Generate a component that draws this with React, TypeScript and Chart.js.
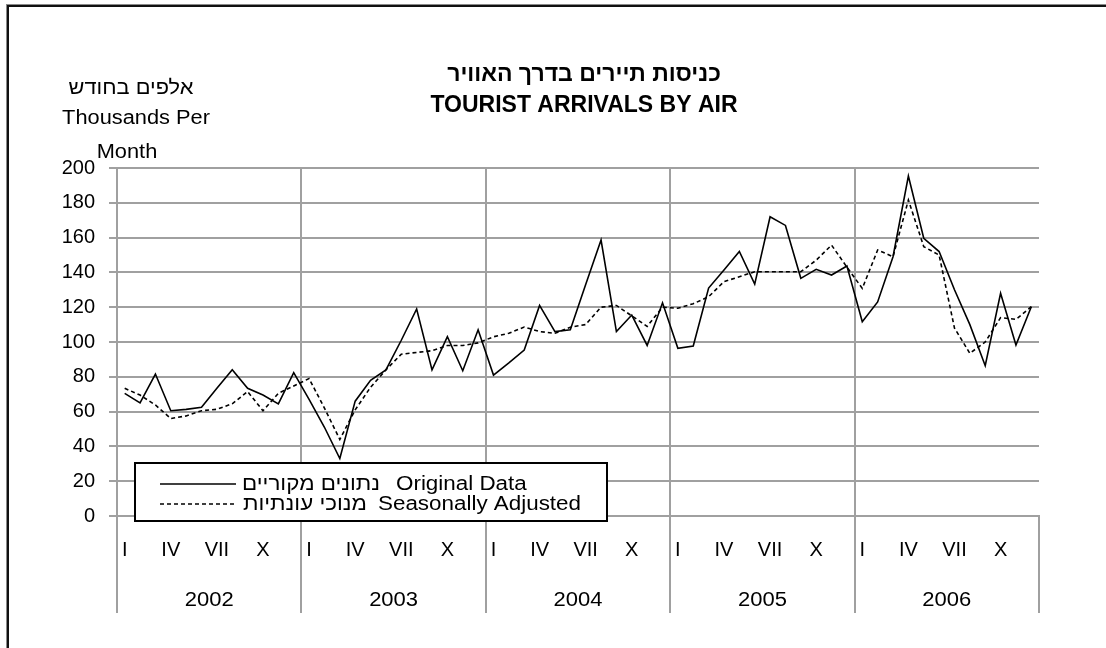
import React, { useEffect, useRef } from 'react';
import { Chart, registerables } from 'chart.js';

Chart.register(...registerables);

// ---------- data ----------
const years = ['2002', '2003', '2004', '2005', '2006'];
const monthTickLabels = ['I', '', '', 'IV', '', '', 'VII', '', '', 'X', '', ''];
const categories: string[] = years.flatMap((y) => monthTickLabels.map((m, i) => `${y}-${i + 1}`));

const originalData = [
  // 2002
  70.5, 65, 81.6, 60.5, 61.3, 62.5, 73.4, 84, 73.4, 69.5, 64.4, 82.4,
  // 2003
  67, 51, 33, 66, 78, 84, 101, 119, 84, 103, 83.5, 107,
  // 2004
  81, 88, 95.4, 121, 106, 107, 133, 158.6, 106, 115.5, 98, 122.5,
  // 2005
  96.4, 97.7, 131, 141.4, 152, 133.3, 172, 167, 136.6, 141.8, 138.5, 143.7,
  // 2006
  111.7, 123, 149, 195.4, 159.6, 152, 130, 110, 86.4, 128, 98.3, 120.3,
];

const seasonallyAdjusted = [
  // 2002
  73.4, 69.5, 63.8, 56, 57.5, 60.5, 61.3, 64.5, 71.5, 60.5, 70.5, 74.7,
  // 2003
  79, 62, 44, 61, 74, 84, 93, 94, 95, 98, 98, 99.5,
  // 2004
  103, 105, 108.6, 106, 105, 108.5, 110, 120, 121, 115, 109, 120,
  // 2005
  119.4, 122, 126, 134.7, 137.5, 140.4, 140.4, 140.4, 140.4, 147, 155.7, 143,
  // 2006
  130.8, 152.9, 149, 181.6, 154.8, 150, 108, 93.5, 100, 114, 113, 120.3,
];

const yMin = 0;
const yMax = 200;
const yStep = 20;

const titleHebrew = 'כניסות תיירים בדרך האוויר';
const titleEnglish = 'TOURIST ARRIVALS BY AIR';
const yTitleLines = ['אלפים בחודש', 'Thousands Per', 'Month'];
const legendHebrew = ['נתונים מקוריים', 'מנוכי עונתיות'];
const legendEnglish = ['Original Data', 'Seasonally Adjusted'];

// ---------- styles ----------
const FONT = '"Liberation Sans", Arial, Helvetica, sans-serif';
const GRID = '#a0a0a0';

function drawText(
  ctx: CanvasRenderingContext2D,
  text: string,
  x: number,
  y: number,
  font: string,
  align: CanvasTextAlign,
  sx = 1
) {
  ctx.save();
  ctx.font = font;
  ctx.fillStyle = '#000';
  ctx.textAlign = align;
  ctx.textBaseline = 'middle';
  ctx.translate(x, y);
  ctx.scale(sx, 1);
  ctx.fillText(text, 0, 0);
  ctx.restore();
}

const overlayPlugin = {
  id: 'overlay',
  beforeDraw(chart: any) {
    const ctx: CanvasRenderingContext2D = chart.ctx;
    ctx.save();
    ctx.fillStyle = '#ffffff';
    ctx.fillRect(0, 0, chart.width, chart.height);
    // outer frame (top + left visible)
    ctx.fillStyle = '#8a8a8a';
    ctx.fillRect(6, 4, chart.width - 6, 1);
    ctx.fillRect(6, 4, 1, chart.height - 4);
    ctx.fillStyle = '#111';
    ctx.fillRect(7, 5, chart.width - 7, 2);
    ctx.fillRect(7, 5, 2, chart.height - 5);
    ctx.restore();
  },
  afterDraw(chart: any) {
    const ctx: CanvasRenderingContext2D = chart.ctx;
    const area = chart.chartArea;
    const xScale = chart.scales.x;

    // year separator lines extended through label area, and year labels
    const n = years.length;
    ctx.save();
    ctx.strokeStyle = GRID;
    ctx.lineWidth = 2;
    for (let k = 0; k <= n; k++) {
      let x: number;
      if (k === 0) x = area.left;
      else if (k === n) x = area.right;
      else x = (xScale.getPixelForValue(12 * k - 1) + xScale.getPixelForValue(12 * k)) / 2;
      x = Math.round(x);
      ctx.beginPath();
      ctx.moveTo(x, area.bottom);
      ctx.lineTo(x, 613);
      ctx.stroke();
    }
    ctx.restore();
    years.forEach((y, k) => {
      const x0 = xScale.getPixelForValue(12 * k);
      const x1 = xScale.getPixelForValue(12 * k + 11);
      drawText(ctx, y, (x0 + x1) / 2, 600, `20px ${FONT}`, 'center', 1.1);
    });

    // titles
    drawText(ctx, titleHebrew, 584, 75, `bold 23px ${FONT}`, 'center');
    drawText(ctx, titleEnglish, 584, 106, `bold 23px ${FONT}`, 'center');

    // y-axis title
    drawText(ctx, yTitleLines[0], 131, 88, `20px ${FONT}`, 'center', 1.09);
    drawText(ctx, yTitleLines[1], 136, 118, `20px ${FONT}`, 'center', 1.09);
    drawText(ctx, yTitleLines[2], 127, 152, `20px ${FONT}`, 'center', 1.09);

    // legend
    const lx = 135, ly = 463, lw = 472, lh = 58;
    ctx.save();
    ctx.fillStyle = '#fff';
    ctx.fillRect(lx, ly, lw, lh);
    ctx.strokeStyle = '#000';
    ctx.lineWidth = 2;
    ctx.strokeRect(lx, ly, lw, lh);
    const rows = [484, 504];
    chart.data.datasets.forEach((ds: any, i: number) => {
      ctx.save();
      ctx.strokeStyle = ds.borderColor;
      ctx.lineWidth = ds.borderWidth;
      ctx.setLineDash(ds.borderDash || []);
      ctx.beginPath();
      ctx.moveTo(160, rows[i]);
      ctx.lineTo(236, rows[i]);
      ctx.stroke();
      ctx.restore();
    });
    ctx.restore();
    drawText(ctx, legendHebrew[0], 242, rows[0], `20px ${FONT}`, 'left', 1.12);
    drawText(ctx, legendEnglish[0], 396, rows[0], `20px ${FONT}`, 'left', 1.12);
    drawText(ctx, legendHebrew[1], 243, rows[1], `20px ${FONT}`, 'left', 1.12);
    drawText(ctx, legendEnglish[1], 378, rows[1], `20px ${FONT}`, 'left', 1.12);
  },
};

export default function App() {
  const canvasRef = useRef<HTMLCanvasElement | null>(null);

  useEffect(() => {
    if (!canvasRef.current) return;
    const chart = new Chart(canvasRef.current, {
      type: 'line',
      data: {
        labels: categories,
        datasets: [
          {
            label: legendEnglish[0],
            data: originalData,
            borderColor: '#000',
            borderWidth: 1.6,
            pointRadius: 0,
            tension: 0,
            fill: false,
          },
          {
            label: legendEnglish[1],
            data: seasonallyAdjusted,
            borderColor: '#000',
            borderWidth: 1.6,
            borderDash: [4, 3],
            pointRadius: 0,
            tension: 0,
            fill: false,
          },
        ],
      },
      options: {
        responsive: false,
        animation: false,
        devicePixelRatio: 1,
        layout: { padding: { left: 0, top: 168, right: 67, bottom: 0 } },
        plugins: {
          legend: { display: false },
          title: { display: false },
          tooltip: { enabled: false },
        },
        scales: {
          x: {
            type: 'category',
            offset: true,
            grid: {
              offset: true,
              drawTicks: false,
              lineWidth: 2,
              color: (c: any) => (c.index % 12 === 0 ? GRID : 'rgba(0,0,0,0)'),
            },
            border: { display: true, color: GRID, width: 2 },
            ticks: {
              autoSkip: false,
              maxRotation: 0,
              minRotation: 0,
              padding: 22,
              color: '#000',
              font: { family: FONT, size: 20 },
              callback: (_v: any, i: number) => monthTickLabels[i % 12],
            },
            afterFit: (scale: any) => {
              scale.height = 132;
            },
          },
          y: {
            min: yMin,
            max: yMax,
            grid: {
              color: GRID,
              lineWidth: 2,
              drawTicks: true,
              tickLength: 8,
              tickColor: GRID,
            },
            border: { display: true, color: GRID, width: 2 },
            ticks: {
              stepSize: yStep,
              padding: 14,
              color: '#000',
              font: { family: FONT, size: 20 },
            },
            afterFit: (scale: any) => {
              scale.width = 117;
            },
          },
        },
      },
      plugins: [overlayPlugin],
    });
    return () => chart.destroy();
  }, []);

  return (
    <div style={{ position: 'absolute', left: 0, top: 0, width: 1106, height: 648, background: '#fff', overflow: 'hidden' }}>
      <canvas ref={canvasRef} width={1106} height={648} style={{ display: 'block', width: 1106, height: 648 }} />
    </div>
  );
}
